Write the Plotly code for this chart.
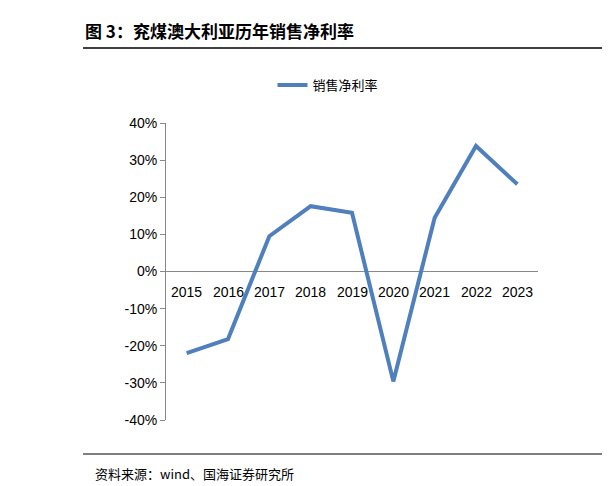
import plotly.graph_objects as go

years = ["2015","2016","2017","2018","2019","2020","2021","2022","2023"]
margin_pct = [-22.0, -18.2, 9.5, 17.6, 15.8, -29.6, 14.5, 33.8, 23.5]
y_ticks = [-40, -30, -20, -10, 0, 10, 20, 30, 40]
y_labels = [f"{v}%" for v in y_ticks]

W, H = 610, 486
L, R, T, B = 158, 80, 115, 74
PW, PH = W - L - R, H - T - B
def px(x): return (x - L) / PW
def py(y): return (H - B - y) / PH

fig = go.Figure()
fig.add_trace(go.Scatter(x=list(range(len(years))), y=margin_pct, mode="lines",
                         name="销售净利率", line=dict(color="#4F7FBC", width=4)))

for i, yr in enumerate(years):
    fig.add_annotation(x=i, y=0, xref="x", yref="y", text=yr, showarrow=False,
                       yshift=-20, font=dict(size=14, color="#000", family="Liberation Sans, Arial"))

fig.add_annotation(x=px(75), y=py(22), xref="paper", yref="paper", xanchor="left", yanchor="middle",
                   text="<b>图 3：兖煤澳大利亚历年销售净利率</b>", showarrow=False,
                   font=dict(size=17, color="#000", family="Noto Sans CJK SC"))
fig.add_annotation(x=px(85), y=py(465), xref="paper", yref="paper", xanchor="left", yanchor="middle",
                   text="资料来源：wind、国海证券研究所", showarrow=False,
                   font=dict(size=13, color="#000", family="Noto Sans CJK SC"))
fig.add_shape(type="line", xref="paper", yref="paper", x0=px(75), x1=px(610), y0=py(40), y1=py(40),
              line=dict(color="#000", width=1.5))
fig.add_shape(type="line", xref="paper", yref="paper", x0=px(75), x1=px(610), y0=py(446), y1=py(446),
              line=dict(color="#000", width=1))

fig.update_layout(
    width=W, height=H, paper_bgcolor="white", plot_bgcolor="white",
    margin=dict(l=L, r=R, t=T, b=B, autoexpand=False),
    showlegend=True,
    legend=dict(orientation="h", x=px(320), xanchor="center", y=py(77), yanchor="middle",
                font=dict(size=13, family="Noto Sans CJK SC", color="#000")),
    xaxis=dict(range=[-0.5, len(years)-0.5], showticklabels=False, showgrid=False,
               zeroline=False, showline=False),
    yaxis=dict(range=[-40, 40], tickvals=y_ticks, ticktext=y_labels, showgrid=False,
               zeroline=True, zerolinecolor="#888", zerolinewidth=1, automargin=False,
               showline=True, linecolor="#888", ticks="outside", ticklen=5, tickcolor="#888",
               tickfont=dict(size=14, color="#000", family="Liberation Sans, Arial")),
)
fig.write_html("out.html")
